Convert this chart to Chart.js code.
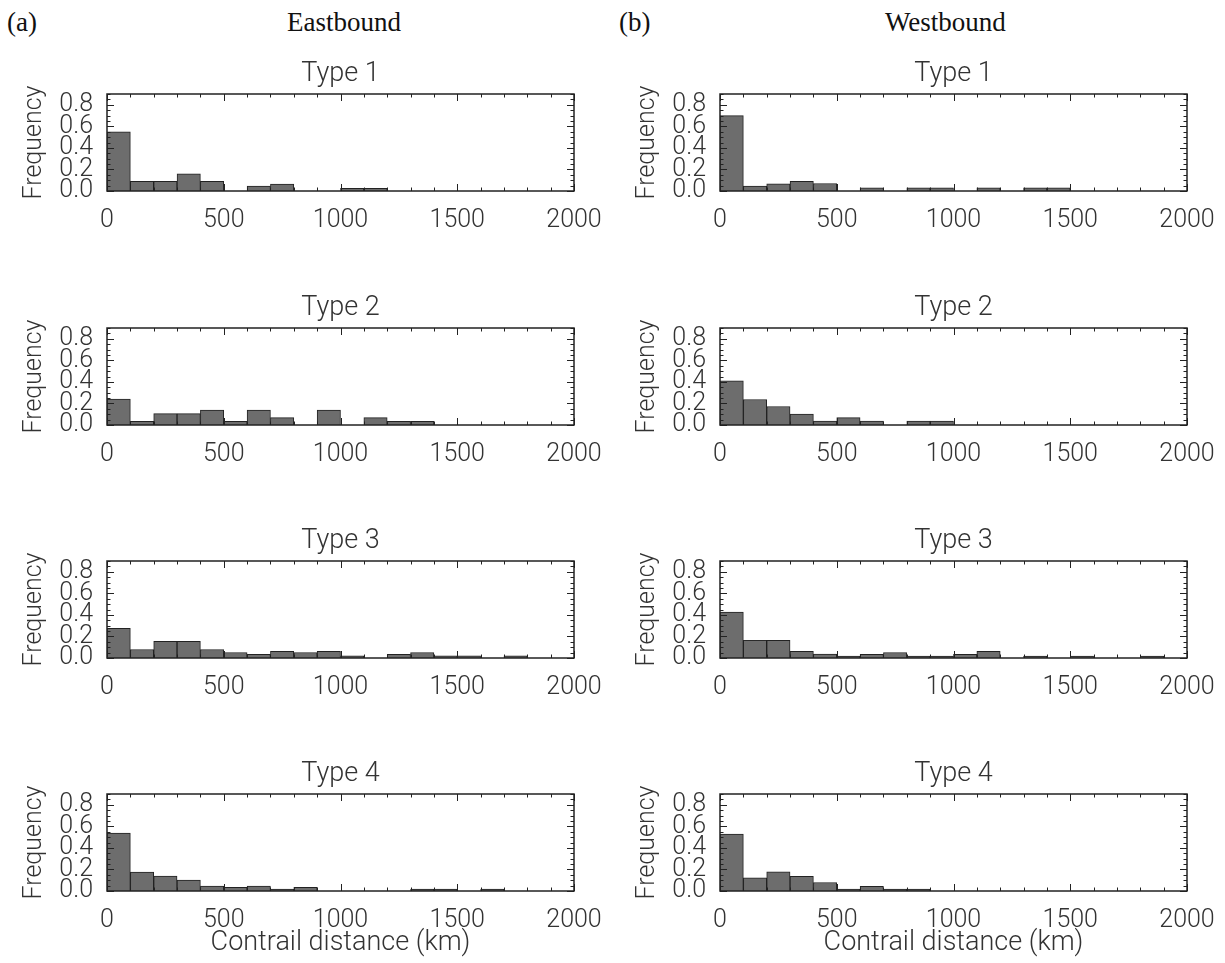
<!DOCTYPE html>
<html>
<head>
<meta charset="utf-8">
<script src="https://cdn.jsdelivr.net/npm/chart.js@4.4.0/dist/chart.umd.min.js"></script>
<style>
  body { margin: 0; background: #fff; width: 1225px; height: 963px; position: relative; overflow: hidden; }
  .panel { position: absolute; width: 612px; height: 210px; }
  .head { position: absolute; font-family: "Liberation Serif", "Times New Roman", serif; font-size: 27px; color: #111; line-height: 30px; }
</style>
</head>
<body>
<div class="head" style="left:7px;top:7px">(a)</div>
<div class="head" style="left:287px;top:7px">Eastbound</div>
<div class="head" style="left:619px;top:7px">(b)</div>
<div class="head" style="left:885px;top:7px">Westbound</div>
<script>
'use strict';

// histogram bins, 100 km wide
const binCenters = [50, 150, 250, 350, 450, 550, 650, 750, 850, 950,
  1050, 1150, 1250, 1350, 1450, 1550, 1650, 1750, 1850, 1950];
const xTicks = [0, 500, 1000, 1500, 2000];
const yTicks = [0.0, 0.2, 0.4, 0.6, 0.8];
const typeNames = ['Type 1', 'Type 2', 'Type 3', 'Type 4'];

const eastType1 = [0.55, 0.09, 0.09, 0.16, 0.09, 0, 0.046, 0.065, 0, 0,
  0.025, 0.025, 0, 0, 0, 0, 0, 0, 0, 0];
const eastType2 = [0.24, 0.034, 0.105, 0.105, 0.139, 0.034, 0.139, 0.068, 0, 0.139,
  0, 0.068, 0.034, 0.034, 0, 0, 0, 0, 0, 0];
const eastType3 = [0.275, 0.079, 0.154, 0.154, 0.079, 0.051, 0.033, 0.063, 0.051, 0.063,
  0.021, 0, 0.033, 0.051, 0.021, 0.021, 0, 0.021, 0, 0];
const eastType4 = [0.537, 0.175, 0.138, 0.101, 0.046, 0.034, 0.046, 0.018, 0.034, 0,
  0, 0, 0, 0.018, 0.018, 0, 0.018, 0, 0, 0];

const westType1 = [0.70, 0.045, 0.067, 0.09, 0.07, 0, 0.03, 0, 0.03, 0.03,
  0, 0.03, 0, 0.03, 0.03, 0, 0, 0, 0, 0];
const westType2 = [0.409, 0.237, 0.172, 0.101, 0.037, 0.068, 0.037, 0, 0.037, 0.037,
  0, 0, 0, 0, 0, 0, 0, 0, 0, 0];
const westType3 = [0.425, 0.165, 0.165, 0.063, 0.036, 0.018, 0.033, 0.051, 0.018, 0.018,
  0.033, 0.063, 0, 0.018, 0, 0.018, 0, 0, 0.018, 0];
const westType4 = [0.528, 0.122, 0.177, 0.137, 0.079, 0.018, 0.043, 0.018, 0.018, 0,
  0, 0, 0, 0, 0, 0, 0, 0, 0, 0];

const columns = [
  [eastType1, eastType2, eastType3, eastType4],
  [westType1, westType2, westType3, westType4],
];

const TextColor = '#333';
const FrameColor = '#222';
const BarFill = '#6d6d6d';
const FontFamily = 'Roboto, "DejaVu Sans", sans-serif';
const TickFont = { family: FontFamily, size: 25, weight: '300' };
const TitleFont = { family: FontFamily, size: 27, weight: '300' };

const colLeft = [0, 613];
const rowTop = [55, 289, 522, 755];

// IDL style box with ticks pointing inward
const frameTicks = {
  id: 'frameTicks',
  afterDatasetsDraw(chart) {
    const { ctx, chartArea: { left, right, top, bottom }, scales: { x, y } } = chart;
    ctx.save();
    ctx.strokeStyle = FrameColor;
    ctx.lineWidth = 1;
    ctx.beginPath();
    for (let k = 0; k <= 20; k++) {
      const px = Math.round(x.getPixelForValue(k * 100)) + 0.5;
      const len = k % 5 === 0 ? 7 : 3.5;
      ctx.moveTo(px, bottom); ctx.lineTo(px, bottom - len);
      ctx.moveTo(px, top); ctx.lineTo(px, top + len);
    }
    for (let k = 0; k <= 18; k++) {
      const py = Math.round(y.getPixelForValue(k * 0.05)) + 0.5;
      const len = k % 4 === 0 ? 7 : 3.5;
      ctx.moveTo(left, py); ctx.lineTo(left + len, py);
      ctx.moveTo(right, py); ctx.lineTo(right - len, py);
    }
    ctx.stroke();
    ctx.lineWidth = 1.5;
    ctx.strokeRect(left, top, right - left, bottom - top);
    ctx.restore();
  },
};

function makePanel(canvas, values, name, showXTitle) {
  let data = {
    datasets: [{
      data: binCenters.map((x, i) => ({ x, y: values[i] })),
      backgroundColor: BarFill,
      borderColor: FrameColor,
      borderWidth: 1,
      barPercentage: 1,
      categoryPercentage: 1,
    }],
  };
  let options = {
    responsive: false,
    animation: false,
    layout: { padding: { left: 0, right: 38, top: 0, bottom: 0 } },
    plugins: {
      legend: { display: false },
      tooltip: { enabled: false },
      title: {
        display: true,
        fullSize: false,
        text: name,
        color: TextColor,
        font: TitleFont,
        padding: { top: 2.8, bottom: 3.8 },
      },
    },
    scales: {
      x: {
        type: 'linear',
        min: 0,
        max: 2000,
        offset: false,
        grid: { display: false },
        border: { display: false },
        afterBuildTicks: s => { s.ticks = xTicks.map(v => ({ value: v })); },
        afterFit: s => { s.height = 74; },
        ticks: {
          color: TextColor,
          font: TickFont,
          padding: 7,
          autoSkip: false,
          maxRotation: 0,
          callback: v => String(v),
        },
        title: {
          display: showXTitle,
          text: 'Contrail distance (km)',
          color: TextColor,
          font: TitleFont,
          padding: { top: 0, bottom: 6 },
        },
      },
      y: {
        min: 0,
        max: 0.9,
        grid: { display: false },
        border: { display: false },
        afterBuildTicks: s => { s.ticks = yTicks.map(v => ({ value: v })); },
        afterFit: s => { s.width = 107; },
        ticks: {
          color: TextColor,
          font: TickFont,
          padding: 6,
          autoSkip: false,
          callback: v => v.toFixed(1),
        },
        title: {
          display: true,
          text: 'Frequency',
          color: TextColor,
          font: TickFont,
          padding: { top: 20, bottom: 0 },
        },
      },
    },
  };
  return new Chart(canvas, { type: 'bar', data, options, plugins: [frameTicks] });
}

columns.forEach((series, c) => {
  series.forEach((values, r) => {
    const div = document.createElement('div');
    div.className = 'panel';
    div.style.left = colLeft[c] + 'px';
    div.style.top = rowTop[r] + 'px';
    const canvas = document.createElement('canvas');
    canvas.width = 612;
    canvas.height = 210;
    div.appendChild(canvas);
    document.body.appendChild(div);
    makePanel(canvas, values, typeNames[r], r === 3);
  });
});
</script>
</body>
</html>
